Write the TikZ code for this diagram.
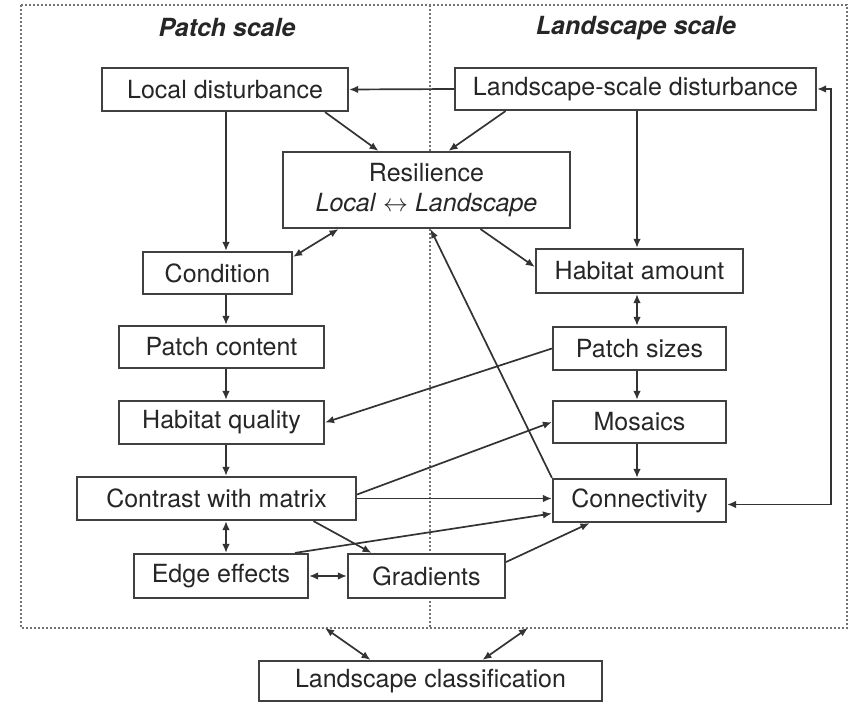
\documentclass[tikz,border=0pt]{standalone}
\usepackage{fontspec}
\setmainfont{TeX Gyre Heros}
\usetikzlibrary{arrows.meta,calc}

\begin{document}
\begin{tikzpicture}[x=1pt,y=-1pt,
	box/.style={draw=black!75, line width=2.2pt, fill=white, text=black!85,
		inner sep=0pt, align=center, font=\fontsize{25}{30}\selectfont},
	hdr/.style={text=black!85, font=\fontsize{25}{30}\selectfont\bfseries\itshape},
	arr/.style={draw=black!80, line width=1.7pt, -{Latex[length=9pt,width=7.5pt]}},
	dbl/.style={arr, {Latex[length=9pt,width=7.5pt]}-{Latex[length=9pt,width=7.5pt]}},
	frame/.style={draw=black!55, line width=2pt, dash pattern=on 2pt off 2pt}]

	\useasboundingbox (0,0) rectangle (849,703);

	% ---- frame and columns

	\draw[frame] (21,5) rectangle (847,628);
	\draw[frame] (430,5) -- (430,628);

	\coordinate (lcol) at (226,0);
	\coordinate (rcol) at (637,0);
	\coordinate (rline) at (831,0);
	\coordinate (fb1) at (325,628);
	\coordinate (fb2) at (528,628);

	\node[hdr] (hpatch) at (227,28) {Patch scale};
	\node[hdr] (hland) at (636,28) {Landscape scale};

	% ---- patch scale boxes

	\node[box, minimum width=246pt, minimum height=43pt] (LD) at (225,89.5) {Local disturbance};
	\node[box, minimum width=149pt, minimum height=42pt] (Cond) at (217.5,273) {Condition};
	\node[box, minimum width=205pt, minimum height=42pt] (PCont) at (221.5,347) {Patch content};
	\node[box, minimum width=205pt, minimum height=43pt] (HQual) at (221.5,422.5) {Habitat quality};
	\node[box, minimum width=279pt, minimum height=43pt] (Contr) at (216.5,498.5) {Contrast with matrix};
	\node[box, minimum width=174pt, minimum height=44pt] (Edge) at (221,576) {Edge effects};
	\node[box, minimum width=157pt, minimum height=44pt] (Grad) at (426.5,576) {Gradients};

	% ---- landscape scale boxes

	\node[box, minimum width=361pt, minimum height=42pt] (LSD) at (635.5,89) {Landscape-scale disturbance};
	\node[box, minimum width=287pt, minimum height=76pt] (Res) at (426.5,190)
		{Resilience\\\textit{Local} $\leftrightarrow$ \textit{Landscape}};
	\node[box, minimum width=207pt, minimum height=44pt] (HAm) at (639.5,271) {Habitat amount};
	\node[box, minimum width=173pt, minimum height=43pt] (PSize) at (639.5,348.5) {Patch sizes};
	\node[box, minimum width=173pt, minimum height=42pt] (Mos) at (639.5,422) {Mosaics};
	\node[box, minimum width=173pt, minimum height=43pt] (Conn) at (639.5,500.5) {Connectivity};

	\node[box, minimum width=343pt, minimum height=40pt] (LClass) at (430.5,681) {Landscape classification};

	% ---- left column

	\draw[arr] (LD.south -| lcol) -- (Cond.north -| lcol);
	\draw[arr] (Cond.south -| lcol) -- (PCont.north -| lcol);
	\draw[arr] (PCont.south -| lcol) -- (HQual.north -| lcol);
	\draw[arr] (HQual.south -| lcol) -- (Contr.north -| lcol);
	\draw[dbl] (Contr.south -| lcol) -- (Edge.north -| lcol);

	% ---- right column

	\draw[arr] (LSD.south -| rcol) -- (HAm.north -| rcol);
	\draw[dbl] (HAm.south -| rcol) -- (PSize.north -| rcol);
	\draw[arr] (PSize.south -| rcol) -- (Mos.north -| rcol);
	\draw[arr] (Mos.south -| rcol) -- (Conn.north -| rcol);

	% ---- cross links

	\draw[arr] (LSD.west) -- (LD.east);
	\draw[arr] ([xshift=100pt]LD.south) -- ([xshift=-48pt]Res.north);
	\draw[arr] ([xshift=-130pt]LSD.south) -- ([xshift=22pt]Res.north);
	\draw[dbl] ([yshift=-6pt]Cond.north east) -- ([xshift=-88pt]Res.south);
	\draw[arr] ([xshift=54pt]Res.south) -- ([yshift=4pt]HAm.west);
	\draw[arr] (Conn.north west) -- ([xshift=4pt]Res.south);
	\draw[arr] (PSize.west) -- (HQual.east);
	\draw[arr] ([yshift=4pt]Contr.east) -- (Mos.west);
	\draw[arr] (Contr.east) -- (Contr.east -| Conn.west);
	\draw[arr] ([xshift=74pt]Edge.north) -- ([yshift=-13pt]Conn.west);
	\draw[arr] ([xshift=97pt]Contr.south) -- ([xshift=-55pt]Grad.north);
	\draw[arr] ([yshift=14pt]Grad.east) -- ([xshift=-50pt]Conn.south);
	\draw[dbl] (Edge.east) -- (Grad.west);
	\draw[dbl] (LSD.east) -- (LSD.east -| rline) -- ([yshift=-4pt]Conn.east -| rline) -- ([yshift=-4pt]Conn.east);

	% ---- classification

	\draw[dbl] (fb1) -- ([xshift=-60pt]LClass.north);
	\draw[dbl] (fb2) -- ([xshift=52pt]LClass.north);

\end{tikzpicture}
\end{document}
